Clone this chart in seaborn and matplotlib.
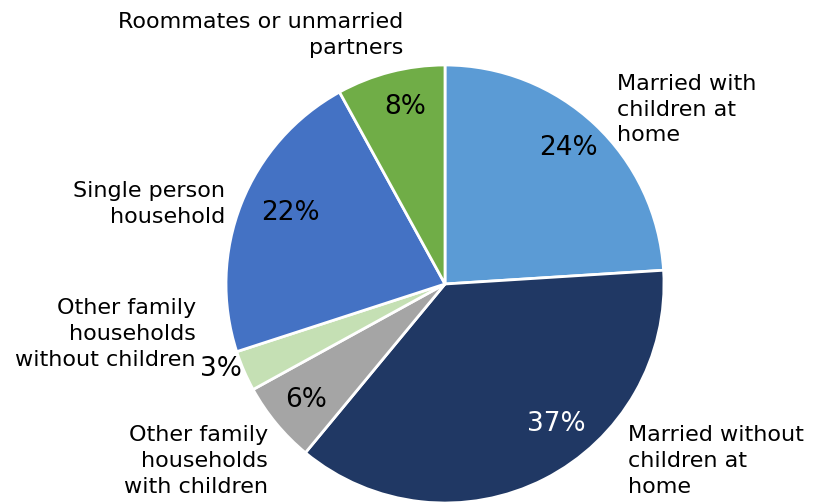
import matplotlib
matplotlib.use("Agg")
import matplotlib.pyplot as plt
import seaborn as sns

# Household composition shares (percent), clockwise from 12 o'clock
categories = [
    "Married with\nchildren at\nhome",
    "Married without\nchildren at\nhome",
    "Other family\nhouseholds\nwith children",
    "Other family\nhouseholds\nwithout children",
    "Single person\nhousehold",
    "Roommates or unmarried\npartners",
]
shares = [24, 37, 6, 3, 22, 8]
colors = ["#5B9BD5", "#203864", "#A5A5A5", "#C5E0B4", "#4472C4", "#70AD47"]

# Category label placement (data units of the unit-radius pie) and alignment
label_pos = [(0.785, 0.795), (0.836, -0.808), (-0.808, -0.808),
             (-1.137, -0.228), (-1.005, 0.365), (-0.192, 1.137)]
label_ha = ["left", "left", "right", "right", "right", "right"]
# Percentage label placement
pct_pos = [(0.562, 0.621), (0.507, -0.639), (-0.635, -0.530),
           (-1.023, -0.388), (-0.708, 0.324), (-0.183, 0.808)]
pct_color = ["black", "white", "black", "black", "black", "black"]

sns.set_theme(style="white")
plt.rcParams["font.family"] = ["DejaVu Sans"]

fig = plt.figure(figsize=(8.2, 5.03), dpi=100)
ax = fig.add_axes([226 / 820, 0.0, 438 / 820, 438 / 503])

ax.pie(shares, colors=colors, startangle=90, counterclock=False,
       wedgeprops=dict(edgecolor="white", linewidth=2))
ax.set_xlim(-1, 1)
ax.set_ylim(-1, 1)
ax.set_aspect("equal")
ax.axis("off")

for text, (x, y), ha in zip(categories, label_pos, label_ha):
    ax.text(x, y, text, ha=ha, va="center", fontsize=16, color="black",
            linespacing=1.35, clip_on=False)

for v, (x, y), c in zip(shares, pct_pos, pct_color):
    ax.text(x, y, f"{v}%", ha="center", va="center", fontsize=19, color=c,
            clip_on=False)

fig.savefig("out.png", dpi=100)
